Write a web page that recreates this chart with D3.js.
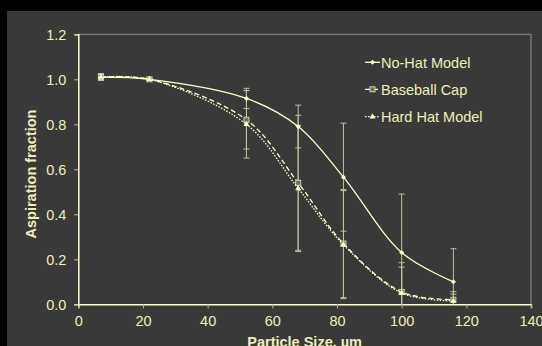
<!DOCTYPE html>
<html><head><meta charset="utf-8">
<script src="https://cdn.jsdelivr.net/npm/d3@7"></script>
<style>html,body{margin:0;padding:0;background:#000;}svg{display:block;}</style>
</head><body>
<script>
const particleSize = [7, 22, 52, 68, 82, 100, 116];
const noHat = [1.01, 1.00, 0.915, 0.79, 0.565, 0.23, 0.10];
const noHatErr = [0.015, 0.005, 0.045, 0.095, 0.24, 0.26, 0.147];
const baseballCap = [1.01, 1.00, 0.82, 0.54, 0.27, 0.055, 0.02];
const baseballErr = [0.015, 0.005, 0.13, 0.30, 0.24, 0.13, 0.036];
const hardHat = [1.01, 1.00, 0.80, 0.515, 0.265, 0.05, 0.015];
const hardHatErr = [0.012, 0.005, 0.15, 0.28, 0.24, 0.115, 0.03];
const seriesNames = ["No-Hat Model", "Baseball Cap", "Hard Hat Model"];
const xTicks = [0, 20, 40, 60, 80, 100, 120, 140];
const yTicks = [0, 0.2, 0.4, 0.6, 0.8, 1.0, 1.2];

const W = 542, H = 346;
const cream = "#eeeebb", axisCol = "#ffffcc", errCol = "#c0c09c";
const svg = d3.select("body").append("svg").attr("width", W).attr("height", H);
svg.append("rect").attr("x", 0).attr("y", 0).attr("width", W).attr("height", H).attr("fill", "#000");
svg.append("rect").attr("x", 7).attr("y", 11).attr("width", W - 7).attr("height", H - 11).attr("fill", "#393939");

const x = d3.scaleLinear().domain([0, 140]).range([78.3, 531]);
const y = d3.scaleLinear().domain([0, 1.2]).range([304.3, 34.3]);

// frame top/right
svg.append("path").attr("d", `M${x(0)},${y(1.2)}H${x(140)}V${y(0)}`).attr("fill", "none").attr("stroke", "#8e8e74").attr("stroke-width", 1);

const font = "'Liberation Sans', Arial, sans-serif";
const xAxis = svg.append("g").attr("transform", `translate(0,${y(0)})`)
  .call(d3.axisBottom(x).tickValues(xTicks).tickSize(4).tickPadding(7).tickFormat(d3.format("d")));
const yAxis = svg.append("g").attr("transform", `translate(${x(0)},0)`)
  .call(d3.axisLeft(y).tickValues(yTicks).tickSize(4).tickPadding(8).tickFormat(d3.format(".1f")));
[xAxis, yAxis].forEach(g => {
  g.select(".domain").attr("stroke", axisCol).attr("stroke-width", 1.5);
  g.selectAll(".tick line").attr("stroke", "#b8b89a");
  g.selectAll("text").attr("fill", cream).attr("font-family", font).attr("font-size", 14.5);
});
yAxis.selectAll("text").attr("dy", "0.35em");

svg.append("text").attr("x", (x(0) + x(140)) / 2).attr("y", 346.5).attr("text-anchor", "middle")
  .attr("fill", cream).attr("font-family", font).attr("font-weight", "bold").attr("font-size", 14.5)
  .text("Particle Size, µm");
svg.append("text").attr("transform", `translate(36,174) rotate(-90)`).attr("text-anchor", "middle")
  .attr("fill", cream).attr("font-family", font).attr("font-weight", "bold").attr("font-size", 14.5)
  .text("Aspiration fraction");

const series = [
  {name: seriesNames[0], vals: noHat, err: noHatErr, dash: null, marker: "diamond"},
  {name: seriesNames[1], vals: baseballCap, err: baseballErr, dash: "5,3", marker: "square"},
  {name: seriesNames[2], vals: hardHat, err: hardHatErr, dash: "1.5,1.5", marker: "triangle"}
];

const clampY = v => Math.max(0, Math.min(1.2, v));
// error bars
series.forEach(s => {
  const g = svg.append("g");
  particleSize.forEach((px, i) => {
    const cx = x(px), lo = y(clampY(s.vals[i] - s.err[i])), hi = y(clampY(s.vals[i] + s.err[i]));
    g.append("line").attr("x1", cx).attr("x2", cx).attr("y1", lo).attr("y2", hi).attr("stroke", errCol).attr("stroke-width", 1);
    [s.vals[i] - s.err[i], s.vals[i] + s.err[i]].forEach(v => {
      if (v >= 0 && v <= 1.2) g.append("line").attr("x1", cx - 3).attr("x2", cx + 3).attr("y1", y(v)).attr("y2", y(v)).attr("stroke", errCol).attr("stroke-width", 1);
    });
  });
});

const line = d3.line().x((d, i) => x(particleSize[i])).y(d => y(d)).curve(d3.curveCatmullRom.alpha(0.5));

function drawMarker(g, type, cx, cy) {
  if (type === "diamond") {
    g.append("rect").attr("x", cx - 1.8).attr("y", cy - 1.8).attr("width", 3.6).attr("height", 3.6).attr("fill", axisCol)
      .attr("transform", `rotate(45,${cx},${cy})`);
  } else if (type === "square") {
    g.append("rect").attr("x", cx - 2.5).attr("y", cy - 2.5).attr("width", 5).attr("height", 5).attr("fill", "#6e6e5e").attr("stroke", "#d0d0aa").attr("stroke-width", 1);
  } else {
    g.append("path").attr("d", d3.symbol(d3.symbolTriangle, 16)()).attr("transform", `translate(${cx},${cy})`).attr("fill", axisCol);
  }
}

series.forEach(s => {
  svg.append("path").datum(s.vals).attr("d", line).attr("fill", "none").attr("stroke", axisCol)
    .attr("stroke-width", 1.3).attr("stroke-dasharray", s.dash);
  const g = svg.append("g");
  s.vals.forEach((v, i) => drawMarker(g, s.marker, x(particleSize[i]), y(v)));
});

// legend
const legY = [62.3, 89.3, 116.7];
series.forEach((s, i) => {
  const g = svg.append("g");
  g.append("line").attr("x1", 365).attr("x2", 380).attr("y1", legY[i]).attr("y2", legY[i]).attr("stroke", axisCol)
    .attr("stroke-width", 1.3).attr("stroke-dasharray", s.dash);
  drawMarker(g, s.marker, 372.5, legY[i]);
  g.append("text").attr("x", 381).attr("y", legY[i]).attr("dy", "0.36em").attr("fill", cream)
    .attr("font-family", font).attr("font-size", 14.5).text(s.name);
});
</script>
</body></html>
